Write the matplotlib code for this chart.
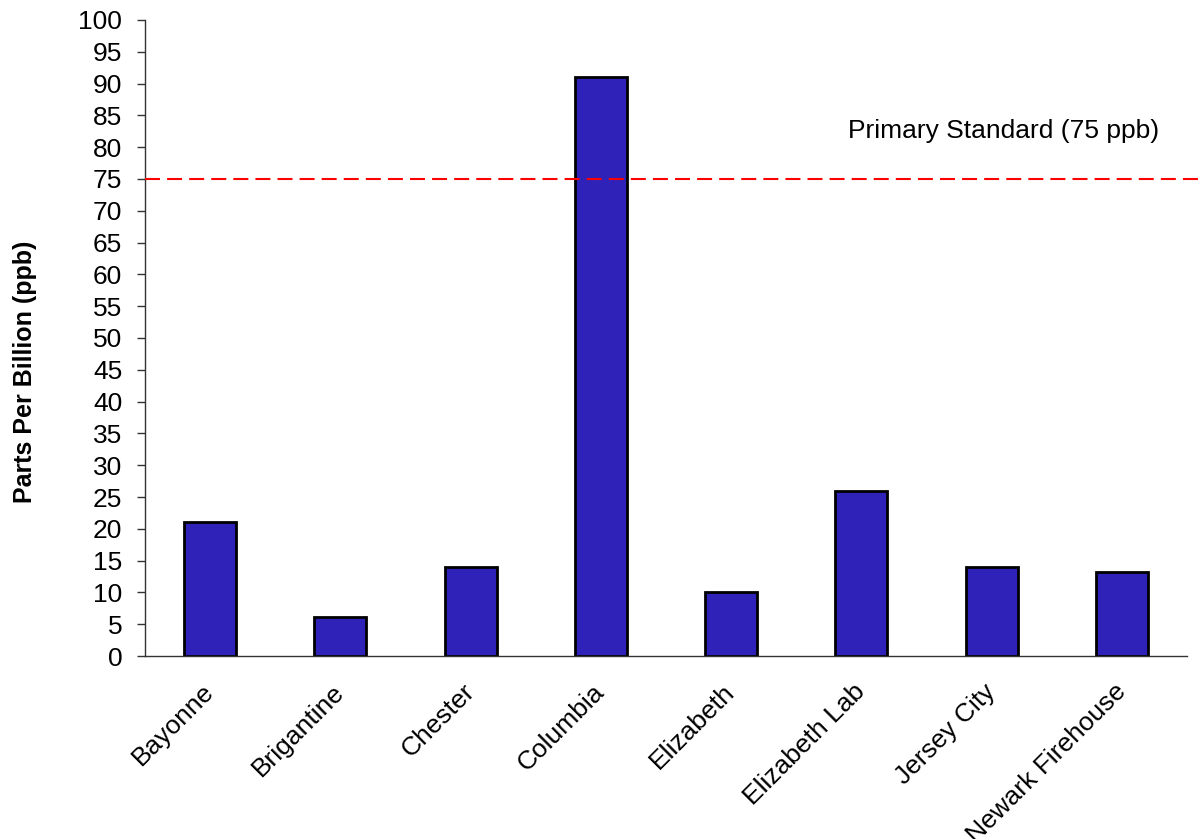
import matplotlib.pyplot as plt
import numpy as np

plt.rcParams['font.family'] = ['Liberation Sans', 'DejaVu Sans']

sites = ["Bayonne", "Brigantine", "Chester", "Columbia", "Elizabeth",
         "Elizabeth Lab", "Jersey City", "Newark Firehouse"]
ppb = [21, 6.2, 14, 91, 10, 26, 14, 13.2]
standard = 75

fig = plt.figure(figsize=(12.04, 8.39), dpi=100)
ax = fig.add_axes([0.1204, 0.2181, 0.8655, 0.7581])

x = np.arange(len(sites))
ax.bar(x, ppb, width=0.4, color="#2E22B8", edgecolor="black", linewidth=2.0, zorder=2)

# standard threshold line runs a bit past the right end of the axis
ax.plot([-0.5, 7.59], [standard, standard], color="red", linestyle=(0, (7.2, 3.4)),
        linewidth=1.5, clip_on=False, zorder=3)
ax.text(6.09, 82.5, "Primary Standard (75 ppb)", ha="center", va="center", fontsize=19)

ax.set_xlim(-0.5, 7.5)
ax.set_ylim(0, 100)
ax.set_yticks(np.arange(0, 101, 5))
ax.set_xticks(x)
ax.set_xticklabels(sites, rotation=45, ha="right", va="center",
                   rotation_mode="anchor", fontsize=19)
ax.tick_params(axis="x", length=0, pad=23)

ax.tick_params(axis="y", direction="out", length=5.8, width=1, color="#333333",
               labelsize=19, pad=10.5)
ax.set_ylabel("Parts Per Billion (ppb)", fontsize=18, fontweight="bold")
ax.yaxis.set_label_coords(-0.104, 0.447)

for side in ["top", "right"]:
    ax.spines[side].set_visible(False)
for side in ["left", "bottom"]:
    ax.spines[side].set_color("#333333")
    ax.spines[side].set_linewidth(1.0)

fig.savefig("out.png", dpi=100)
